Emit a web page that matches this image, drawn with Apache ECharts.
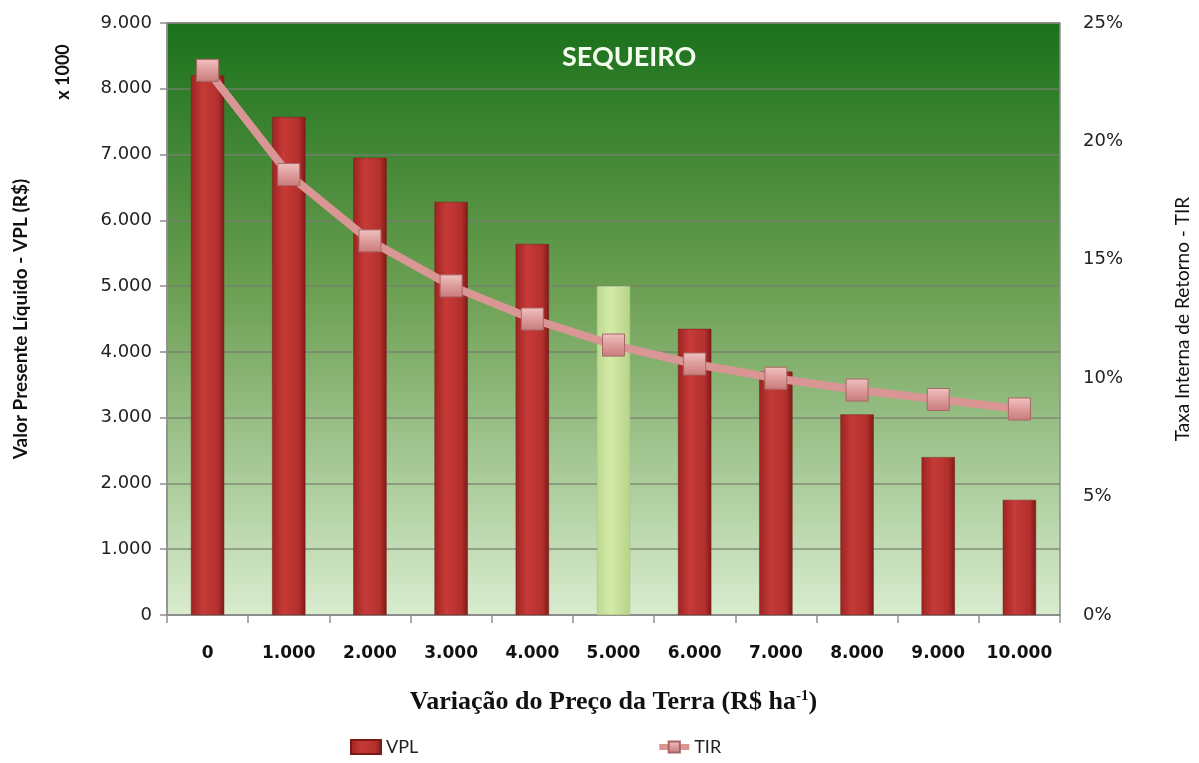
<!DOCTYPE html>
<html>
<head>
<meta charset="utf-8">
<script src="https://cdn.jsdelivr.net/npm/echarts@6/dist/echarts.min.js"></script>
<style>
  html, body { margin: 0; padding: 0; background: #fff; }
  #main { width: 1199px; height: 763px; }
</style>
</head>
<body>
<div id="main"></div>
<script>
// valores
const categories = ['0', '1.000', '2.000', '3.000', '4.000', '5.000', '6.000', '7.000', '8.000', '9.000', '10.000'];
const vplValues = [8200, 7570, 6950, 6280, 5640, 5000, 4350, 3700, 3050, 2400, 1750];
const tirValues = [23.0, 18.6, 15.8, 13.9, 12.5, 11.4, 10.6, 10.0, 9.5, 9.1, 8.7];
const highlightIndex = 5; // barra destacada (verde claro)

function fmtMil(v) {
  return String(v).replace(/\B(?=(\d{3})+(?!\d))/g, '.');
}

const redBar = {
  type: 'linear', x: 0, y: 0, x2: 1, y2: 0,
  colorStops: [
    { offset: 0, color: '#9c2422' },
    { offset: 0.35, color: '#c63a37' },
    { offset: 0.8, color: '#b3302d' },
    { offset: 1, color: '#7e1a18' }
  ]
};
const greenBar = {
  type: 'linear', x: 0, y: 0, x2: 1, y2: 0,
  colorStops: [
    { offset: 0, color: '#bcd88e' },
    { offset: 0.4, color: '#d3eaa8' },
    { offset: 1, color: '#b7d488' }
  ]
};

const chart = echarts.init(document.getElementById('main'));

const option = {
  animation: false,
  title: {
    text: 'SEQUEIRO',
    left: 557,
    top: 39,
    textStyle: { color: '#f4fbef', fontSize: 27, fontWeight: 'bold', fontFamily: 'Lato' }
  },
  legend: {
    left: 345,
    top: 733,
    itemWidth: 30,
    itemHeight: 14,
    itemGap: 238,
    textStyle: { color: '#222', fontSize: 18, fontFamily: 'Lato' },
    data: [
      { name: 'VPL', icon: 'rect' },
      { name: 'TIR', lineStyle: { width: 6 } }
    ]
  },
  graphic: [
    {
      type: 'text',
      x: 63,
      y: 72,
      rotation: Math.PI / 2,
      style: {
        text: 'x 1000',
        fill: '#111',
        font: 'bold 18px Lato',
        align: 'center',
        verticalAlign: 'middle'
      }
    }
  ],
  grid: {
    left: 167,
    right: 139,
    top: 23,
    bottom: 148,
    containLabel: false,
    outerBoundsMode: 'none',
    show: true,
    borderColor: '#8f8f8f',
    borderWidth: 1.5,
    backgroundColor: {
      type: 'linear', x: 0, y: 0, x2: 0, y2: 1,
      colorStops: [
        { offset: 0, color: '#1b711b' },
        { offset: 0.45, color: '#6b9f52' },
        { offset: 1, color: '#d9eccf' }
      ]
    }
  },
  xAxis: {
    type: 'category',
    data: categories,
    boundaryGap: true,
    axisLine: { lineStyle: { color: '#8f8f8f', width: 1.5 } },
    axisTick: { show: true, length: 8, lineStyle: { color: '#8f8f8f', width: 1.5 } },
    axisLabel: { interval: 0, color: '#111', fontSize: 17, fontWeight: 'bold', fontFamily: 'DejaVu Sans', margin: 30, hideOverlap: false },
    name: 'Variação do Preço da Terra (R$ ha{sup|-1})',
    nameLocation: 'middle',
    nameGap: 74,
    nameTextStyle: {
      color: '#111', fontSize: 26, fontWeight: 'bold', fontFamily: 'Liberation Serif',
      rich: {
        sup: { fontSize: 15, fontWeight: 'bold', fontFamily: 'Liberation Serif', verticalAlign: 'top', padding: [0, 0, 12, 0] }
      }
    }
  },
  yAxis: [
    {
      type: 'value',
      min: 0,
      max: 9000,
      interval: 1000,
      position: 'left',
      axisLine: { show: true, lineStyle: { color: '#8f8f8f', width: 1.5 } },
      axisTick: { show: true, length: 7, lineStyle: { color: '#8f8f8f', width: 1.5 } },
      axisLabel: { color: '#222', fontSize: 18, fontFamily: 'DejaVu Sans', margin: 15, formatter: fmtMil },
      splitLine: { show: true, lineStyle: { color: 'rgba(120,128,110,0.85)', width: 1.5 } },
      name: 'Valor Presente Líquido - VPL (R$)',
      nameLocation: 'middle',
      nameGap: 137,
      nameRotate: 90,
      nameTextStyle: { color: '#111', fontSize: 19, fontWeight: 'bold', fontFamily: 'Lato' }
    },
    {
      type: 'value',
      min: 0,
      max: 25,
      interval: 5,
      position: 'right',
      axisLine: { show: false },
      axisTick: { show: false },
      axisLabel: { color: '#222', fontSize: 18, fontFamily: 'DejaVu Sans', margin: 23, formatter: '{value}%' },
      splitLine: { show: false },
      name: 'Taxa Interna de Retorno - TIR',
      nameLocation: 'middle',
      nameGap: 113,
      nameRotate: 90,
      nameTextStyle: { color: '#111', fontSize: 19, fontFamily: 'Lato' }
    }
  ],
  series: [
    {
      name: 'VPL',
      type: 'bar',
      barWidth: '41%',
      yAxisIndex: 0,
      itemStyle: { color: redBar, borderColor: '#7a1a18', borderWidth: 0.5 },
      data: vplValues.map(function (v, i) {
        if (i === highlightIndex) {
          return { value: v, itemStyle: { color: greenBar, borderColor: '#a9c47c' } };
        }
        return v;
      }),
      z: 2
    },
    {
      name: 'TIR',
      type: 'line',
      yAxisIndex: 1,
      data: tirValues,
      symbol: 'rect',
      symbolSize: 22,
      lineStyle: { color: '#d99694', width: 8 },
      itemStyle: {
        color: {
          type: 'linear', x: 0, y: 0, x2: 0, y2: 1,
          colorStops: [
            { offset: 0, color: '#f0c2c1' },
            { offset: 0.5, color: '#dd9c9b' },
            { offset: 1, color: '#c77c7b' }
          ]
        },
        borderColor: '#a86766',
        borderWidth: 1
      },
      z: 3
    }
  ]
};

chart.setOption(option);
</script>
</body>
</html>
